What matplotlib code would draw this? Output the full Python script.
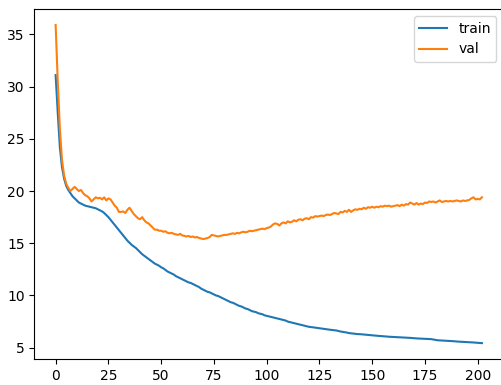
import numpy as np
import matplotlib
matplotlib.use('Agg')
import matplotlib.pyplot as plt

train = [
    31.1, 27.5, 24.2, 22.3, 21.2, 20.5, 20.1, 19.8, 19.5, 19.3,
    19.1, 18.9, 18.8, 18.7, 18.6, 18.55, 18.5, 18.45, 18.4, 18.35,
    18.25, 18.15, 18.05, 17.9, 17.7, 17.5, 17.25, 17.0, 16.75, 16.5,
    16.25, 16.0, 15.75, 15.5, 15.25, 15.05, 14.85, 14.7, 14.55, 14.35,
    14.15, 13.95, 13.8, 13.65, 13.5, 13.35, 13.2, 13.05, 12.95, 12.85,
    12.7, 12.6, 12.45, 12.3, 12.2, 12.1, 12.0, 11.85, 11.75, 11.65,
    11.55, 11.45, 11.35, 11.25, 11.2, 11.1, 11.0, 10.9, 10.8,
    10.65, 10.55, 10.45, 10.35, 10.3, 10.2, 10.1, 10.0, 9.95, 9.85,
    9.75, 9.65, 9.55, 9.45, 9.35, 9.3, 9.2, 9.1, 9.0, 8.95,
    8.85, 8.75, 8.7, 8.6, 8.5, 8.45, 8.4, 8.3, 8.25, 8.2,
    8.1, 8.05, 8.0, 7.95, 7.9, 7.85, 7.8, 7.75, 7.7, 7.65,
    7.6, 7.5, 7.45, 7.4, 7.35, 7.3, 7.25, 7.2, 7.15, 7.1,
    7.05, 7.0, 6.98, 6.95, 6.92, 6.9, 6.85, 6.82, 6.8, 6.77,
    6.75, 6.72, 6.7, 6.68, 6.65, 6.6, 6.55, 6.52, 6.5, 6.45,
    6.4, 6.38, 6.35, 6.33, 6.3, 6.3, 6.28, 6.26, 6.24,
    6.22, 6.2, 6.18, 6.16, 6.15, 6.13, 6.12, 6.1, 6.08, 6.06,
    6.05, 6.04, 6.03, 6.02, 6.01, 6.0, 5.98, 5.97, 5.96, 5.95,
    5.94, 5.92, 5.9, 5.89, 5.88, 5.87, 5.86, 5.85, 5.84, 5.83,
    5.82, 5.78, 5.74, 5.71, 5.7, 5.69, 5.67, 5.68, 5.66, 5.64,
    5.63, 5.61, 5.6, 5.58, 5.57, 5.56, 5.55, 5.53, 5.52, 5.51,
    5.5, 5.48, 5.47, 5.45, 5.44,
]

val = [
    35.9, 30.5, 26.0, 23.0, 21.5, 20.7, 20.3, 20.0, 20.2, 20.4,
    20.2, 20.0, 20.1, 19.8, 19.6, 19.5, 19.3, 19.0, 19.2, 19.4,
    19.3, 19.35, 19.2, 19.4, 19.1, 19.3, 19.2, 18.9, 18.6, 18.4,
    18.0, 18.0, 18.05, 17.9, 18.2, 18.4, 18.1, 17.8, 17.6, 17.4,
    17.3, 17.5, 17.2, 17.0, 16.9, 16.7, 16.5, 16.3, 16.3, 16.2,
    16.2, 16.1, 16.15, 16.0, 15.95, 16.0, 15.9, 15.85, 15.8, 15.9,
    15.75, 15.7, 15.65, 15.7, 15.6, 15.65, 15.55, 15.6, 15.5,
    15.45, 15.4, 15.45, 15.5, 15.6, 15.8, 15.75, 15.7, 15.65, 15.7,
    15.75, 15.8, 15.8, 15.85, 15.9, 15.95, 15.9, 16.0, 15.95, 16.05,
    16.1, 16.05, 16.1, 16.2, 16.15, 16.2, 16.25, 16.3, 16.35, 16.4,
    16.35, 16.45, 16.5, 16.6, 16.8, 16.9, 16.85, 16.7, 16.9, 17.0,
    16.9, 17.1, 17.0, 17.05, 17.2, 17.1, 17.25, 17.3, 17.2, 17.35,
    17.4, 17.3, 17.5, 17.45, 17.6, 17.55, 17.6, 17.65, 17.6, 17.7,
    17.75, 17.7, 17.8, 17.9, 17.85, 17.8, 18.0, 17.95, 18.1, 18.0,
    18.2, 18.0, 18.15, 18.25, 18.2, 18.3, 18.25, 18.4, 18.3,
    18.45, 18.4, 18.5, 18.4, 18.5, 18.45, 18.55, 18.5, 18.6, 18.55,
    18.6, 18.5, 18.55, 18.6, 18.65, 18.55, 18.7, 18.6, 18.75, 18.7,
    18.9, 18.8, 18.7, 18.85, 18.7, 18.8, 18.75, 18.9, 18.85, 19.0,
    18.95, 19.0, 18.9, 19.0, 19.1, 18.95, 19.0, 19.05, 19.0, 19.05,
    19.0, 19.05, 19.1, 19.05, 19.0, 19.1, 19.05, 19.1, 19.15, 19.3,
    19.4, 19.2, 19.25, 19.2, 19.4,
]

epochs = np.arange(len(train))

fig = plt.figure(figsize=(5.01, 3.85), dpi=100)
# the original was cropped tight, so the right spine sits just past the edge
ax = fig.add_axes([0.0685, 0.0675, 0.936, 0.909])
ax.plot(epochs, train, label='train')
ax.plot(epochs, val, label='val')
ax.legend()
fig.savefig('out.png', dpi=100)
